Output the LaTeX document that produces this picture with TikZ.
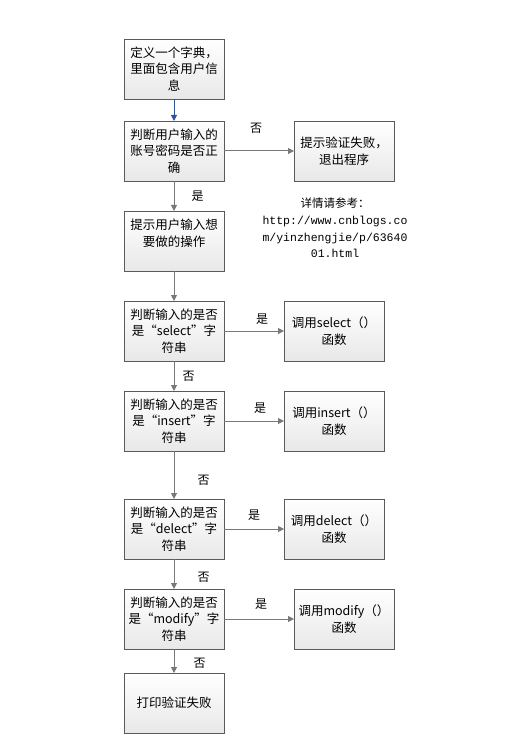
\documentclass[tikz,border=0pt]{standalone}
\usepackage{fontspec}
\setmainfont{Noto Sans CJK SC}
\newfontfamily\urlfont{Liberation Mono}
\usetikzlibrary{arrows.meta,positioning}
\definecolor{boxline}{RGB}{90,90,90}
\definecolor{arrgray}{RGB}{120,120,120}
\definecolor{arrblue}{RGB}{47,85,151}

\begin{document}
\begin{tikzpicture}[
        x=1pt, y=1pt,
        node distance=30pt,
        box/.style={draw=boxline, line width=0.8pt, rectangle, top color=white, bottom color=gray!18, font=\fontsize{12.5}{16.7}\selectfont, align=center, minimum width=100pt, minimum height=60pt, inner sep=2pt, outer sep=0pt},
        arr/.style={-{Triangle[length=6pt,width=6pt]}, line width=1pt, arrgray},
        lbl/.style={font=\fontsize{12}{14}\selectfont, text=black, inner sep=0pt},
        note/.style={font=\fontsize{11.5}{16.7}\selectfont, align=center, inner sep=0pt}
    ]
        \useasboundingbox (0,0) rectangle (510,-751);

        \node[box] (dict) at (174,-69) {定义一个字典，\\里面包含用户信\\息};
        \node[box, below=22pt of dict] (login) {判断用户输入的\\账号密码是否正\\确};
        \node[box, right=70pt of login] (fail) {提示验证失败，\\退出程序};
        \node[box, below=of login] (ask) {提示用户输入想\\要做的操作\\\mbox{}};
        \node[note] (ref) at (335,-228) {详情请参考：\\{\urlfont http://www.cnblogs.co}\\{\urlfont m/yinzhengjie/p/63640}\\{\urlfont 01.html}};

        \draw[arr, arrblue] (dict) -- (login);
        \draw[arr] (login) -- node[lbl, above=17pt, xshift=-3pt]{否} (fail);
        \draw[arr] (login) -- node[lbl, right=17pt]{是} (ask);

        \node[box, below=of ask] (isselect) {判断输入的是否\\是“select”字\\符串};
        \node[box, right=60pt of isselect] (doselect) {调用select（）\\函数};
        \node[box, below=of isselect] (isinsert) {判断输入的是否\\是“insert”字\\符串};
        \node[box, right=60pt of isinsert] (doinsert) {调用insert（）\\函数};
        \node[box, below=48pt of isinsert] (isdelect) {判断输入的是否\\是“delect”字\\符串};
        \node[box, right=60pt of isdelect] (dodelect) {调用delect（）\\函数};
        \node[box, below=of isdelect] (ismodify) {判断输入的是否\\是“modify”字\\符串};
        \node[box, right=70pt of ismodify] (domodify) {调用modify（）\\函数};
        \node[box, below=24pt of ismodify] (printfail) {打印验证失败};

        \draw[arr] (ask) -- (isselect);
        \draw[arr] (isselect) -- node[lbl, above=6pt, xshift=8pt]{是} (doselect);
        \draw[arr] (isselect) -- node[lbl, right=8pt]{否} (isinsert);
        \draw[arr] (isinsert) -- node[lbl, above=7pt, xshift=6pt]{是} (doinsert);
        \draw[arr] (isinsert) -- node[lbl, right=23pt, yshift=-5pt]{否} (isdelect);
        \draw[arr] (isdelect) -- node[lbl, above=8pt]{是} (dodelect);
        \draw[arr] (isdelect) -- node[lbl, right=23pt, yshift=-3pt]{否} (ismodify);
        \draw[arr] (ismodify) -- node[lbl, above=9pt, xshift=2pt]{是} (domodify);
        \draw[arr] (ismodify) -- node[lbl, right=19pt, yshift=-2pt]{否} (printfail);

    \end{tikzpicture}
\end{document}
